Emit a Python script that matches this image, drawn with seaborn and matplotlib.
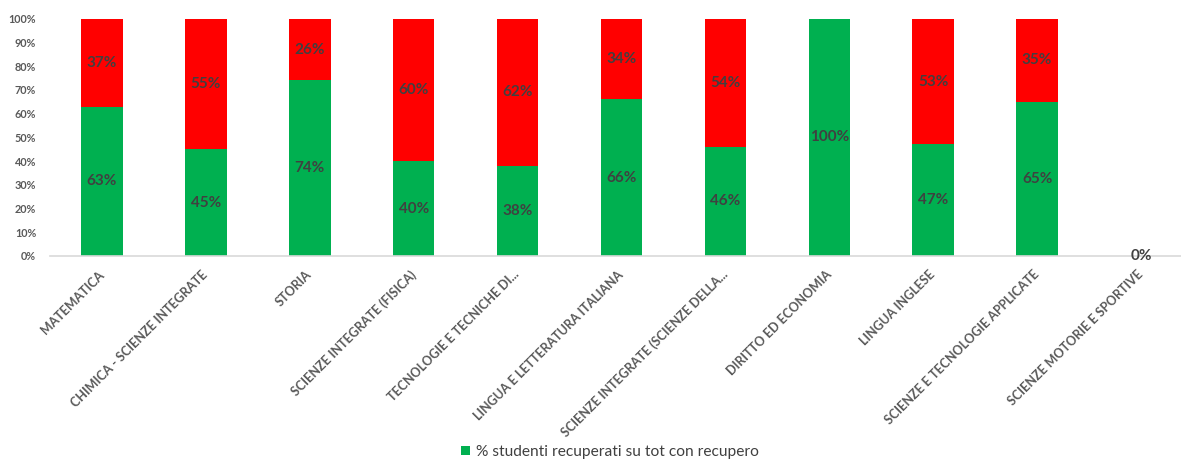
import numpy as np
import pandas as pd
import matplotlib
matplotlib.use("Agg")
import matplotlib.pyplot as plt
import seaborn as sns

categories = [
    "MATEMATICA",
    "CHIMICA - SCIENZE INTEGRATE",
    "STORIA",
    "SCIENZE INTEGRATE (FISICA)",
    "TECNOLOGIE E TECNICHE DI...",
    "LINGUA E LETTERATURA ITALIANA",
    "SCIENZE INTEGRATE (SCIENZE DELLA...",
    "DIRITTO ED ECONOMIA",
    "LINGUA INGLESE",
    "SCIENZE E TECNOLOGIE APPLICATE",
    "SCIENZE MOTORIE E SPORTIVE",
]
recuperati = [63, 45, 74, 40, 38, 66, 46, 100, 47, 65, 0]
non_recuperati = [37, 55, 26, 60, 62, 34, 54, 0, 53, 35, 0]
legend_label = "% studenti recuperati su tot con recupero"

sns.set_theme(style="white")
plt.rcParams['font.family'] = ['Lato', 'DejaVu Sans']

df = pd.DataFrame({
    "cat": categories,
    "green": recuperati,
    "red": non_recuperati,
})
df["total"] = df["green"] + df["red"]

fig = plt.figure(figsize=(11.81, 4.62), dpi=100)
W, H = 1181, 462
ax = fig.add_axes([50 / W, 1 - 256 / H, (1193 - 50) / W, (256 - 18.7) / H])

GREEN = "#00B050"
RED = "#FF0000"
sns.barplot(data=df, x="cat", y="total", color=RED, width=0.40, saturation=1,
            ax=ax, linewidth=0)
sns.barplot(data=df, x="cat", y="green", color=GREEN, width=0.40, saturation=1,
            ax=ax, linewidth=0, label=legend_label)

ax.set_ylim(0, 100)
ax.set_xlim(-0.5, len(categories) - 0.5)
ax.set_yticks(np.arange(0, 101, 10))
ax.set_yticklabels([f"{v}%" for v in range(0, 101, 10)], fontsize=7.8,
                   color="#595959", fontweight="bold")
ax.set_xticks(range(len(categories)))
ax.set_xticklabels(categories, rotation=45, ha="right", va="center",
                   rotation_mode="anchor",
                   fontsize=9, color="#595959", fontweight="bold")
ax.tick_params(axis="both", length=0)
ax.tick_params(axis="x", pad=12)
ax.tick_params(axis="y", pad=10)
ax.set_xlabel("")
ax.set_ylabel("")
for s in ["top", "right", "left"]:
    ax.spines[s].set_visible(False)
ax.spines["bottom"].set_color("#d9d9d9")
ax.spines["bottom"].set_linewidth(1.2)

lab_kw = dict(ha="center", va="center", fontsize=11, color="#404040",
              fontweight="bold", clip_on=False)
for i, (g, r) in enumerate(zip(recuperati, non_recuperati)):
    if g > 0 or (g == 0 and r == 0):
        ax.text(i, g / 2, f"{g}%", **lab_kw)
    if r > 0:
        ax.text(i, g + r / 2, f"{r}%", **lab_kw)

handles, labels = ax.get_legend_handles_labels()
leg = fig.legend(handles[-1:], [legend_label], loc="center",
                 bbox_to_anchor=(610 / W, 1 - 452 / H), frameon=False,
                 fontsize=11.2, handlelength=0.6, handleheight=0.6,
                 handletextpad=0.4)
for t in leg.get_texts():
    t.set_color("#404040")
if ax.get_legend() is not None:
    ax.get_legend().remove()

fig.savefig("out.png", dpi=100)
